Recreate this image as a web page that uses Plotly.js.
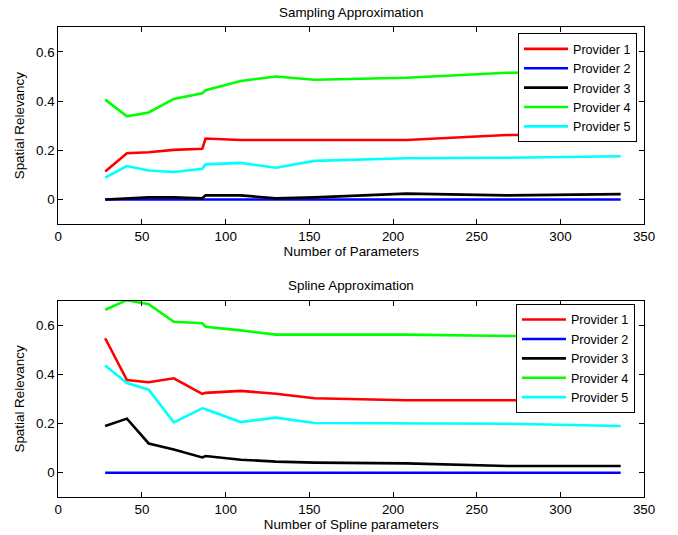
<!DOCTYPE html>
<html>
<head>
<meta charset="utf-8">
<script src="https://cdn.plot.ly/plotly-3.0.1.min.js"></script>
<style>html,body{margin:0;padding:0;background:#fff;}#chart{width:678px;height:535px;}</style>
</head>
<body>
<div id="chart"></div>
<script>
const xParams = [28, 41, 54, 69, 86, 88, 109, 130, 153, 208, 268, 336];
const providerNames = ["Provider 1", "Provider 2", "Provider 3", "Provider 4", "Provider 5"];
const providerColors = ["#ff0000", "#0000ff", "#000000", "#00ff00", "#00ffff"];

// Sampling approximation
const samp1 = [0.114, 0.188, 0.192, 0.202, 0.206, 0.248, 0.242, 0.242, 0.242, 0.242, 0.262, 0.265];
const samp2 = [0, 0, 0, 0, 0, 0, 0, 0, 0, 0, 0, 0];
const samp3 = [0.0, 0.004, 0.009, 0.009, 0.005, 0.017, 0.017, 0.005, 0.009, 0.024, 0.017, 0.022];
const samp4 = [0.406, 0.338, 0.354, 0.409, 0.432, 0.444, 0.482, 0.500, 0.487, 0.495, 0.515, 0.52];
const samp5 = [0.089, 0.136, 0.118, 0.112, 0.125, 0.143, 0.149, 0.129, 0.157, 0.168, 0.170, 0.176];

// Spline approximation
const spl1 = [0.547, 0.377, 0.368, 0.384, 0.321, 0.325, 0.333, 0.321, 0.303, 0.295, 0.295, 0.295];
const spl2 = [0, 0, 0, 0, 0, 0, 0, 0, 0, 0, 0, 0];
const spl3 = [0.190, 0.220, 0.119, 0.094, 0.062, 0.068, 0.053, 0.045, 0.041, 0.038, 0.027, 0.027];
const spl4 = [0.663, 0.702, 0.686, 0.614, 0.608, 0.594, 0.579, 0.562, 0.562, 0.562, 0.556, 0.555];
const spl5 = [0.436, 0.365, 0.338, 0.205, 0.262, 0.258, 0.206, 0.224, 0.202, 0.200, 0.199, 0.190];

const sampSeries = [samp1, samp2, samp3, samp4, samp5];
const splSeries = [spl1, spl2, spl3, spl4, spl5];

const titles = ["Sampling Approximation", "Spline Approximation"];
const xTitles = ["Number of Parameters", "Number of Spline parameters"];
const yTitle = "Spatial Relevancy";
const xTickVals = [0, 50, 100, 150, 200, 250, 300, 350];
const yTickVals = [0, 0.2, 0.4, 0.6];

const traces = [];
sampSeries.forEach((ys, i) => traces.push({
  x: xParams, y: ys, type: 'scatter', mode: 'lines', name: providerNames[i],
  line: {color: providerColors[i], width: 2.6}, xaxis: 'x', yaxis: 'y', legend: 'legend'
}));
splSeries.forEach((ys, i) => traces.push({
  x: xParams, y: ys, type: 'scatter', mode: 'lines', name: providerNames[i],
  line: {color: providerColors[i], width: 2.6}, xaxis: 'x2', yaxis: 'y2', legend: 'legend2'
}));

const FS = 13.4;
const LFS = 12.6;
const font = {family: 'Liberation Sans, Arial, Helvetica, sans-serif', size: FS, color: '#000'};
function xa(dom, anchor, title) {
  return {domain: dom, anchor: anchor, range: [0, 350], tickvals: xTickVals,
    ticks: 'inside', ticklen: 5, tickcolor: '#000', mirror: 'ticks', showline: true, linecolor: '#000', linewidth: 1,
    showgrid: false, zeroline: false, tickfont: {size: FS},
    title: {text: title, font: {size: FS}, standoff: 3}};
}
function ya(dom, anchor) {
  return {domain: dom, anchor: anchor, range: [-0.1, 0.7], tickvals: yTickVals, ticktext: ['0', '0.2', '0.4', '0.6'],
    ticks: 'inside', ticklen: 5, tickcolor: '#000', mirror: 'ticks', showline: true, linecolor: '#000', linewidth: 1,
    showgrid: false, zeroline: false, tickfont: {size: FS},
    title: {text: yTitle, font: {size: FS}, standoff: 8}};
}
const legendBase = {bgcolor: '#fff', bordercolor: '#000', borderwidth: 1, xanchor: 'left', yanchor: 'top',
  font: {size: LFS}, tracegroupgap: 0, itemwidth: 44};

const layout = {
  width: 678, height: 535, margin: {l: 0, r: 0, t: 0, b: 0},
  paper_bgcolor: '#fff', plot_bgcolor: '#fff', font: font, showlegend: true,
  xaxis: xa([0.086, 0.950], 'y', xTitles[0]),
  yaxis: ya([0.581, 0.949], 'x'),
  xaxis2: xa([0.086, 0.950], 'y2', xTitles[1]),
  yaxis2: ya([0.0705, 0.438], 'x2'),
  legend: Object.assign({}, legendBase, {x: 0.764, y: 0.938}),
  legend2: Object.assign({}, legendBase, {x: 0.761, y: 0.432}),
  annotations: [
    {text: titles[0], xref: 'paper', yref: 'paper', x: 0.517, y: 0.976, xanchor: 'center', yanchor: 'middle', showarrow: false, font: {size: FS}},
    {text: titles[1], xref: 'paper', yref: 'paper', x: 0.517, y: 0.466, xanchor: 'center', yanchor: 'middle', showarrow: false, font: {size: FS}}
  ]
};
Plotly.newPlot('chart', traces, layout, {displayModeBar: false, staticPlot: true});
</script>
</body>
</html>
